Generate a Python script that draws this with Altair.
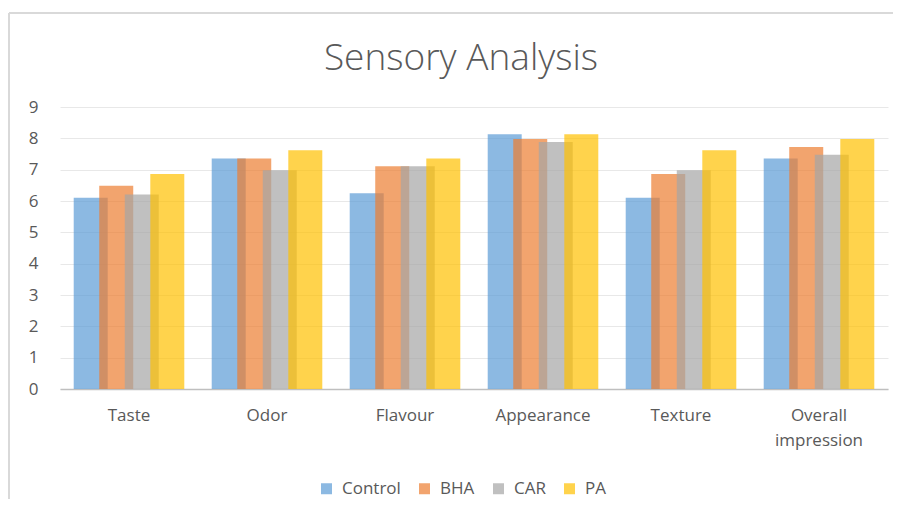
import altair as alt
import pandas as pd

categories = ["Taste", "Odor", "Flavour", "Appearance", "Texture", "Overall impression"]
series = ["Control", "BHA", "CAR", "PA"]
control = [6.10, 7.36, 6.25, 8.13, 6.10, 7.36]
bha = [6.49, 7.36, 7.11, 7.98, 6.86, 7.72]
car = [6.21, 6.98, 7.11, 7.88, 6.98, 7.48]
pa = [6.86, 7.62, 7.36, 8.13, 7.62, 7.98]
colors = ["#5B9BD5", "#ED7D31", "#A5A5A5", "#FFC000"]
title_text = ["Sensory Analysis"]

rows = []
for s, vals in zip(series, [control, bha, car, pa]):
    for c, v in zip(categories, vals):
        rows.append({"category": c, "series": s, "value": v})
df = pd.DataFrame(rows)

W, H = 828, 282
FONT = "Open Sans"
GREY = "#595959"

bars = alt.Chart(df).mark_bar(width=34, opacity=0.7).encode(
    x=alt.X("category:N", sort=categories, title=None,
            scale=alt.Scale(paddingInner=0.26, paddingOuter=0.13),
            axis=alt.Axis(labelAngle=0, labelFont=FONT, labelFontSize=17,
                          labelColor=GREY, labelPadding=18, ticks=False,
                          domainColor="#bfbfbf", domainWidth=1.5,
                          labelLineHeight=25,
                          labelExpr="datum.label == 'Overall impression' ? ['Overall', 'impression'] : datum.label")),
    xOffset=alt.XOffset("series:N", sort=series,
                        scale=alt.Scale(paddingInner=0, paddingOuter=0)),
    y=alt.Y("value:Q", title=None,
            scale=alt.Scale(domain=[0, 9], nice=False),
            axis=alt.Axis(values=list(range(10)), labelFont=FONT, labelFontSize=17,
                          labelColor=GREY, labelPadding=22, ticks=False, domain=False,
                          gridColor="#e8e8e8", gridWidth=1)),
    color=alt.Color("series:N", sort=series,
                    scale=alt.Scale(domain=series, range=colors),
                    legend=alt.Legend(title=None, orient="none", direction="horizontal",
                                      legendX=258, legendY=373, symbolType="square",
                                      symbolSize=121, symbolOpacity=0.7,
                                      symbolStrokeWidth=0,
                                      labelFont=FONT, labelFontSize=17, labelColor=GREY,
                                      columnPadding=15, labelOffset=7)),
)

title = alt.Chart(pd.DataFrame({"t": title_text})).mark_text(
    font=FONT, fontSize=37, fontWeight=300, color=GREY, align="center", baseline="middle"
).encode(text="t:N", x=alt.value(401), y=alt.value(-48))

top_line = alt.Chart(df).mark_rule(color="#d9d9d9", strokeWidth=1.5).encode(
    x=alt.value(-51), x2=alt.value(W + 100), y=alt.value(-94))
left_line = alt.Chart(df).mark_rule(color="#d9d9d9", strokeWidth=1.5).encode(
    x=alt.value(-51), y=alt.value(-94), y2=alt.value(H + 200))

chart = alt.layer(top_line, left_line, title, bars).properties(
    width=W, height=H,
    autosize=alt.AutoSizeParams(type="none"),
    padding={"left": 52, "top": 99, "right": 5, "bottom": 110},
).configure_view(stroke=None)

chart.save("out.html", embed_options={"renderer": "svg", "actions": False})
